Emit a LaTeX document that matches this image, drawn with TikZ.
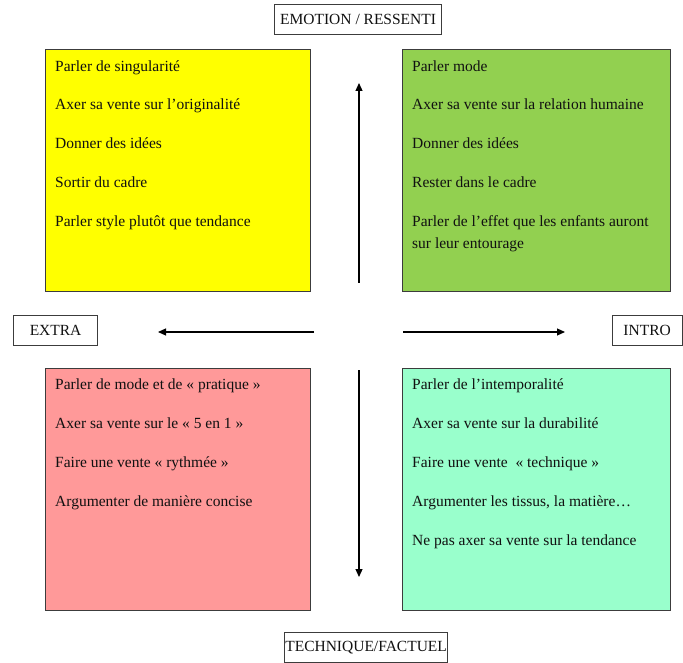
\documentclass[tikz,border=0pt]{standalone}
\usepackage{fontspec}
\setmainfont{Liberation Serif}
\usetikzlibrary{arrows.meta}
\definecolor{bordergray}{HTML}{3C3C3C}
\definecolor{qyellow}{HTML}{FFFF00}
\definecolor{qgreen}{HTML}{92D050}
\definecolor{qred}{HTML}{FF9999}
\definecolor{qmint}{HTML}{99FFCC}
\definecolor{txt}{HTML}{111111}
\tikzset{
  quad/.style={draw=bordergray, line width=1.2pt, inner sep=0pt, anchor=north west,
    minimum width=#1},
  quadh/.style={minimum height=242pt},
  item/.style={anchor=base west, inner sep=0pt, text=txt, font=\fontsize{15.5}{18}\selectfont},
  tag/.style={draw=bordergray, line width=1.2pt, fill=white, inner sep=0pt, anchor=north west,
    text=txt, font=\fontsize{15.5}{18}\selectfont},
  axis/.style={line width=1.2pt, draw=black, -{Triangle[length=8pt,width=7pt]}}
}
\begin{document}
\begin{tikzpicture}[x=1pt,y=-1pt]
\useasboundingbox (0,0) rectangle (683,663);
\fill[white] (0,0) rectangle (683,663);

% quadrants
\node[quad=265pt, quadh, fill=qyellow] (Y) at (45,49) {};
\node[quad=268pt, quadh, fill=qgreen] (G) at (402,49) {};
\node[quad=265pt, quadh, fill=qred] (R) at (45,368) {};
\node[quad=268pt, quadh, fill=qmint] (M) at (402,368) {};

% yellow texts
\node[item] (y1) at (55,72) {Parler de singularité};
\node[item] (y2) at (55,110) {Axer sa vente sur l’originalité};
\node[item] (y3) at (55,149) {Donner des idées};
\node[item] (y4) at (55,188) {Sortir du cadre};
\node[item] (y5) at (55,227) {Parler style plutôt que tendance};

% green texts
\node[item] (g1) at (412,72) {Parler mode};
\node[item] (g2) at (412,110) {Axer sa vente sur la relation humaine};
\node[item] (g3) at (412,149) {Donner des idées};
\node[item] (g4) at (412,188) {Rester dans le cadre};
\node[item] (g5) at (412,227) {Parler de l’effet que les enfants auront};
\node[item] (g6) at (412,249) {sur leur entourage};

% red texts
\node[item] (r1) at (55,389) {Parler de mode et de « pratique »};
\node[item] (r2) at (55,428) {Axer sa vente sur le « 5 en 1 »};
\node[item] (r3) at (55,467) {Faire une vente « rythmée »};
\node[item] (r4) at (55,506) {Argumenter de manière concise};

% mint texts
\node[item] (m1) at (412,389) {Parler de l’intemporalité};
\node[item] (m2) at (412,428) {Axer sa vente sur la durabilité};
\node[item] (m3) at (412,467) {Faire une vente \ « technique »};
\node[item] (m4) at (412,506) {Argumenter les tissus, la matière…};
\node[item] (m5) at (412,545) {Ne pas axer sa vente sur la tendance};

% axis labels
\node[tag, minimum width=167pt, minimum height=30pt] (emo) at (274,4) {EMOTION / RESSENTI};
\node[tag, minimum width=84pt, minimum height=30pt] (ext) at (13,315) {EXTRA};
\node[tag, minimum width=70pt, minimum height=30pt, text width=70pt, align=center] (int) at (612,315) {\hspace*{-1pt}INTRO};
\node[tag, minimum width=163pt, minimum height=30pt] (tec) at (284,632) {TECHNIQUE/FACTUEL};

% arrows
\coordinate (up0) at (359,283);
\coordinate (up1) at (359,83);
\coordinate (dn0) at (359,370);
\coordinate (dn1) at (359,577);
\coordinate (lf0) at (314,332);
\coordinate (lf1) at (158,332);
\coordinate (rt0) at (403,332);
\coordinate (rt1) at (565,332);
\draw[axis] (up0) -- (up1);
\draw[axis] (dn0) -- (dn1);
\draw[axis] (lf0) -- (lf1);
\draw[axis] (rt0) -- (rt1);
\end{tikzpicture}
\end{document}
